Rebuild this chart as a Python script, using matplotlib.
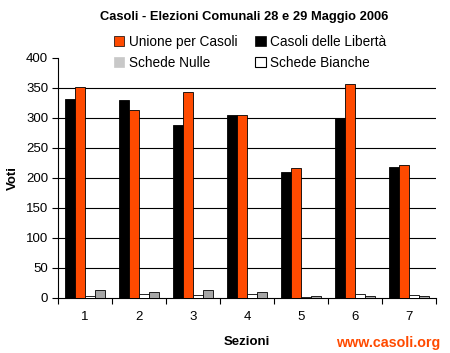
import numpy as np
import matplotlib.pyplot as plt
from matplotlib.patches import Patch

plt.rcParams['font.family'] = ['Liberation Sans', 'DejaVu Sans']

sezioni = ['1', '2', '3', '4', '5', '6', '7']
liberta = [331, 330, 289, 305, 210, 300, 218]
unione = [352, 314, 343, 305, 216, 357, 221]
bianche = [3, 7, 5, 7, 1, 7, 5]
nulle = [14, 10, 13, 10, 3, 3, 4]

orange = '#ff4a00'
grey = '#a6a6a6'

fig = plt.figure(figsize=(4.5, 3.53), dpi=100)
ax = fig.add_axes([58 / 450, 55 / 353, 378 / 450, 240 / 353])

x = np.arange(len(sezioni))
w = 0.185
series = [(liberta, 'black'), (unione, orange), (bianche, 'white'), (nulle, grey)]
for i, (vals, col) in enumerate(series):
    ax.bar(x + (i - 1.5) * w, vals, w, color=col, edgecolor='black', linewidth=0.6, zorder=3)

ax.set_xlim(-0.5, len(sezioni) - 0.5)
ax.set_ylim(0, 400)
ax.set_yticks(range(0, 401, 50))
for v in range(50, 400, 50):
    ax.axhline(v, color='black', linewidth=0.8, zorder=1)

ax.set_xticks(x)
ax.set_xticklabels(sezioni)
ax.set_xticks(np.arange(-0.5, len(sezioni)), minor=True)
ax.tick_params(axis='x', which='major', length=0, pad=9, labelsize=9.5)
ax.tick_params(axis='x', which='minor', length=4, width=0.8, direction='out')
ax.tick_params(axis='y', length=4, width=0.8, labelsize=9.5, pad=3)

for s in ['top', 'right']:
    ax.spines[s].set_visible(False)
ax.spines['left'].set_linewidth(0.8)
ax.spines['bottom'].set_linewidth(0.8)

ax.set_ylabel('Voti', fontsize=9.5, fontweight='bold', labelpad=5)
ax.set_xlabel('Sezioni', fontsize=9.5, fontweight='bold', labelpad=10)

fig.text(0.543, 0.953, 'Casoli - Elezioni Comunali 28 e 29 Maggio 2006',
         ha='center', va='center', fontsize=9.3, fontweight='bold')

handles = [Patch(facecolor=orange, edgecolor='black', linewidth=0.5),
           Patch(facecolor='#c8c8c8', edgecolor='#c8c8c8', linewidth=0.5),
           Patch(facecolor='black', edgecolor='black', linewidth=0.5),
           Patch(facecolor='white', edgecolor='black', linewidth=0.8)]
labels = ['Unione per Casoli', 'Schede Nulle', 'Casoli delle Libertà', 'Schede Bianche']
fig.legend(handles, labels, ncol=2, loc='center', bbox_to_anchor=(0.555, 0.852),
           frameon=True, edgecolor='white', facecolor='white', framealpha=1,
           fontsize=9.8, handlelength=0.8, handleheight=0.8, handletextpad=0.3,
           columnspacing=1.3, labelspacing=0.55, borderpad=0.1)

fig.text(0.978, 0.028, 'www.casoli.org', ha='right', va='center',
         fontsize=10.3, fontweight='bold', color=orange)

fig.savefig('out.png', dpi=100)
